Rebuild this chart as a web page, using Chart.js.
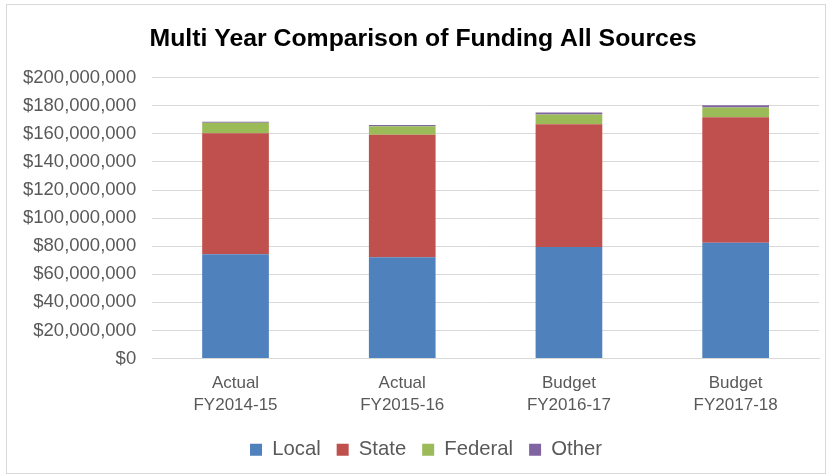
<!DOCTYPE html>
<html>
<head>
<meta charset="utf-8">
<script src="https://cdn.jsdelivr.net/npm/chart.js@4"></script>
<style>
  body { margin: 0; background: #fff; }
  #chart { position: absolute; left: 0; top: 0; display: block; }
  #frame { position: absolute; left: 6px; top: 4px; width: 820px; height: 470px; border: 1px solid #d9d9d9; box-sizing: border-box; pointer-events: none; }
</style>
</head>
<body>
<canvas id="chart" width="827" height="476"></canvas>
<div id="frame"></div>
<script>
  // Funding by source, per fiscal year (dollars)
  const years = [['Actual', 'FY2014-15'], ['Actual', 'FY2015-16'], ['Budget', 'FY2016-17'], ['Budget', 'FY2017-18']];
  const local = [74200000, 72100000, 79400000, 82500000];
  const state = [86200000, 87300000, 87500000, 89300000];
  const federal = [7500000, 6100000, 6900000, 7100000];
  const other = [700000, 900000, 1400000, 1500000];

  const font = 'Liberation Sans, Arial, sans-serif';

  function money(v) {
    return '$' + v.toLocaleString('en-US');
  }

  // title and legend sit a bit right of centre in the original
  const nudgeBoxes = {
    id: 'nudgeBoxes',
    afterLayout(chart) {
      chart.legend.left += 13;
      chart.legend.right += 13;
      chart.titleBlock.left += 10;
      chart.titleBlock.right += 10;
    }
  };

  const ctx = document.getElementById('chart').getContext('2d');
  new Chart(ctx, {
    type: 'bar',
    data: {
      labels: years,
      datasets: [
        { label: 'Local', data: local, backgroundColor: '#4f81bd' },
        { label: 'State', data: state, backgroundColor: '#c0504d' },
        { label: 'Federal', data: federal, backgroundColor: '#9bbb59' },
        { label: 'Other', data: other, backgroundColor: '#8064a2' }
      ]
    },
    options: {
      responsive: false,
      animation: false,
      layout: { padding: { left: 7, right: 8, top: 0, bottom: 6 } },
      datasets: { bar: { barPercentage: 0.4, categoryPercentage: 1.0 } },
      plugins: {
        title: {
          display: true,
          text: 'Multi Year Comparison of Funding All Sources',
          color: '#000',
          font: { family: font, size: 24.8, weight: 'bold' },
          padding: { top: 24, bottom: 24 }
        },
        legend: {
          position: 'bottom',
          labels: {
            color: '#595959',
            font: { family: font, size: 20.3 },
            boxWidth: 12,
            boxHeight: 12,
            padding: 16
          }
        },
        tooltip: { enabled: false }
      },
      scales: {
        x: {
          stacked: true,
          grid: { display: false },
          border: { color: '#d9d9d9' },
          ticks: { color: '#595959', padding: 6, font: { family: font, size: 17, lineHeight: 1.3 }, maxRotation: 0 },
          afterFit: scale => { scale.height += 1; }
        },
        y: {
          stacked: true,
          min: 0,
          max: 200000000,
          grid: { color: '#d9d9d9', tickLength: 0 },
          border: { display: false },
          ticks: {
            stepSize: 20000000,
            color: '#595959',
            padding: 16,
            font: { family: font, size: 18.5 },
            callback: v => money(v)
          }
        }
      }
    },
    plugins: [nudgeBoxes]
  });
</script>
</body>
</html>
